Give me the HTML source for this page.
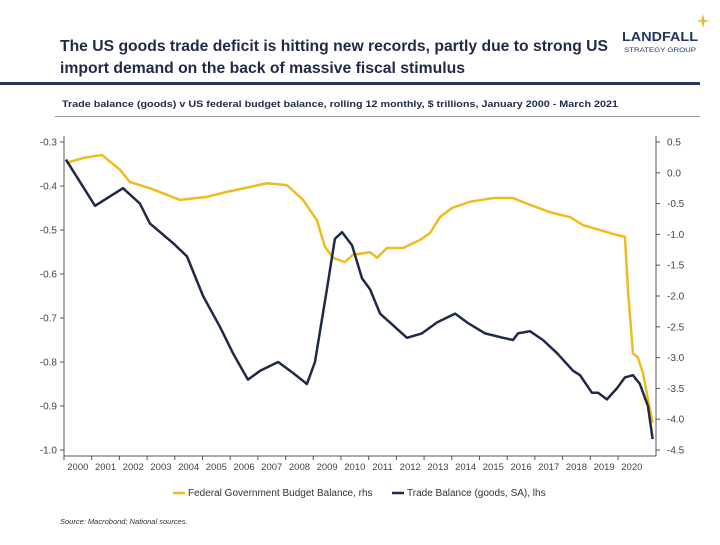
<!DOCTYPE html>
<html><head><meta charset="utf-8"><style>
body{margin:0;background:#fff;width:720px;height:540px;overflow:hidden;font-family:"Liberation Sans",sans-serif}
</style></head><body>
<svg width="720" height="540" viewBox="0 0 720 540">
<text x="60" y="51" font-size="16" font-weight="bold" fill="#1f2a48" textLength="548" lengthAdjust="spacingAndGlyphs">The US goods trade deficit is hitting new records, partly due to strong US</text>
<text x="60" y="73" font-size="16" font-weight="bold" fill="#1f2a48" textLength="405" lengthAdjust="spacingAndGlyphs">import demand on the back of massive fiscal stimulus</text>
<g>
<text x="622" y="41" font-size="13" font-weight="bold" fill="#24375e" textLength="76" lengthAdjust="spacingAndGlyphs">LANDFALL</text>
<text x="624" y="52" font-size="6.5" fill="#24375e" textLength="72" lengthAdjust="spacingAndGlyphs">STRATEGY GROUP</text>
<path d="M703 14 L704.5 20 L710 21 L704.5 22 L703 28 L701.5 22 L696 21 L701.5 20Z" fill="#e8b829"/>
</g>
<rect x="0" y="82" width="700" height="3" fill="#24375e"/>
<text x="62" y="107" font-size="9.5" font-weight="bold" fill="#1f2a48" textLength="556" lengthAdjust="spacingAndGlyphs">Trade balance (goods) v US federal budget balance, rolling 12 monthly, $ trillions, January 2000 - March 2021</text>
<rect x="55" y="116" width="645" height="1" fill="#999"/>
<g id="axes"></g>
<g id="series"></g>
<g>
<line x1="173" y1="493" x2="185" y2="493" stroke="#f0bc1c" stroke-width="2.5"/>
<text x="188" y="496" font-size="10" fill="#333">Federal Government Budget Balance, rhs</text>
<line x1="392" y1="493" x2="404" y2="493" stroke="#1f2a48" stroke-width="2.5"/>
<text x="407" y="496" font-size="10" fill="#333">Trade Balance (goods, SA), lhs</text>
</g>
<text x="60" y="524" font-size="7.5" font-style="italic" fill="#333">Source: Macrobond;  National sources.</text>
</svg>
<script>
const tradeT=[0.07,1.12,2.13,2.74,3.10,3.94,4.44,5.02,5.63,6.10,6.64,7.08,7.73,8.27,8.77,9.06,9.49,9.78,10.04,10.40,10.76,11.05,11.41,12.38,12.92,13.47,14.12,14.55,15.20,15.85,16.21,16.39,16.82,17.29,17.80,18.38,18.63,19.06,19.28,19.60,19.96,20.25,20.54,20.79,21.08,21.25];
const tradeV=[-0.34,-0.445,-0.405,-0.44,-0.485,-0.53,-0.56,-0.65,-0.72,-0.78,-0.84,-0.82,-0.80,-0.825,-0.85,-0.80,-0.635,-0.52,-0.505,-0.535,-0.61,-0.635,-0.69,-0.745,-0.735,-0.71,-0.69,-0.71,-0.735,-0.745,-0.75,-0.735,-0.73,-0.75,-0.78,-0.82,-0.83,-0.87,-0.87,-0.885,-0.86,-0.835,-0.83,-0.85,-0.90,-0.975];
const budgetT=[0.07,0.69,1.37,2.02,2.38,3.10,4.19,5.16,5.88,6.71,7.33,8.05,8.63,9.13,9.42,9.71,10.14,10.43,11.05,11.30,11.66,12.24,12.85,13.21,13.57,14.01,14.66,15.49,16.21,16.82,17.55,18.27,18.74,19.35,19.96,20.25,20.36,20.54,20.72,20.90,21.25];
const budgetV=[0.16,0.24,0.29,0.05,-0.15,-0.25,-0.44,-0.39,-0.31,-0.23,-0.17,-0.20,-0.44,-0.77,-1.2,-1.38,-1.45,-1.33,-1.29,-1.38,-1.22,-1.22,-1.09,-0.98,-0.72,-0.57,-0.47,-0.41,-0.41,-0.52,-0.64,-0.72,-0.85,-0.93,-1.01,-1.04,-1.9,-2.93,-3.0,-3.25,-4.06];
const leftTicks=[-0.3,-0.4,-0.5,-0.6,-0.7,-0.8,-0.9,-1.0];
const rightTicks=[0.5,0.0,-0.5,-1.0,-1.5,-2.0,-2.5,-3.0,-3.5,-4.0,-4.5];
const years=[2000,2001,2002,2003,2004,2005,2006,2007,2008,2009,2010,2011,2012,2013,2014,2015,2016,2017,2018,2019,2020];
const X=t=>64+t*27.7, YL=v=>142+(-0.3-v)*440, YR=v=>142+(0.5-v)*61.6;
const NS="http://www.w3.org/2000/svg";
function mk(tag,at,parent){const e=document.createElementNS(NS,tag);for(const k in at)e.setAttribute(k,at[k]);parent.appendChild(e);return e;}
const ax=document.getElementById('axes'), sr=document.getElementById('series');
let e;
e=mk('line',{x1:64,y1:136,x2:64,y2:456,stroke:'#555','stroke-width':1},ax);


e=mk('line',{x1:656,y1:136,x2:656,y2:456,stroke:'#555','stroke-width':1},ax);


e=mk('line',{x1:64,y1:456,x2:656,y2:456,stroke:'#555','stroke-width':1},ax);


leftTicks.forEach(v=>{const y=YL(v);
mk('line',{x1:60,y1:y,x2:64,y2:y,stroke:'#555'},ax);
e=mk('text',{x:57,y:y+3.5,'font-size':10,'text-anchor':'end',fill:'#444'},ax);e.textContent=v.toFixed(1);

});
rightTicks.forEach(v=>{const y=YR(v);
mk('line',{x1:656,y1:y,x2:660,y2:y,stroke:'#555'},ax);
e=mk('text',{x:667,y:y+3.5,'font-size':10,fill:'#444'},ax);e.textContent=(v>=0?' ':'')+v.toFixed(1);

});
years.forEach((yr,i)=>{const x=X(i);
mk('line',{x1:x,y1:456,x2:x,y2:460,stroke:'#555'},ax);
e=mk('text',{x:X(i+0.5),y:470,'font-size':9.5,'text-anchor':'middle',fill:'#444'},ax);e.textContent=yr;

});
e=mk('polyline',{points:budgetT.map((t,i)=>X(t)+','+YR(budgetV[i])).join(' '),fill:'none',stroke:'#f0bc1c','stroke-width':2.5,'stroke-linejoin':'round'},sr);


e=mk('polyline',{points:tradeT.map((t,i)=>X(t)+','+YL(tradeV[i])).join(' '),fill:'none',stroke:'#1f2a48','stroke-width':2.5,'stroke-linejoin':'round'},sr);


</script>
</body></html>
